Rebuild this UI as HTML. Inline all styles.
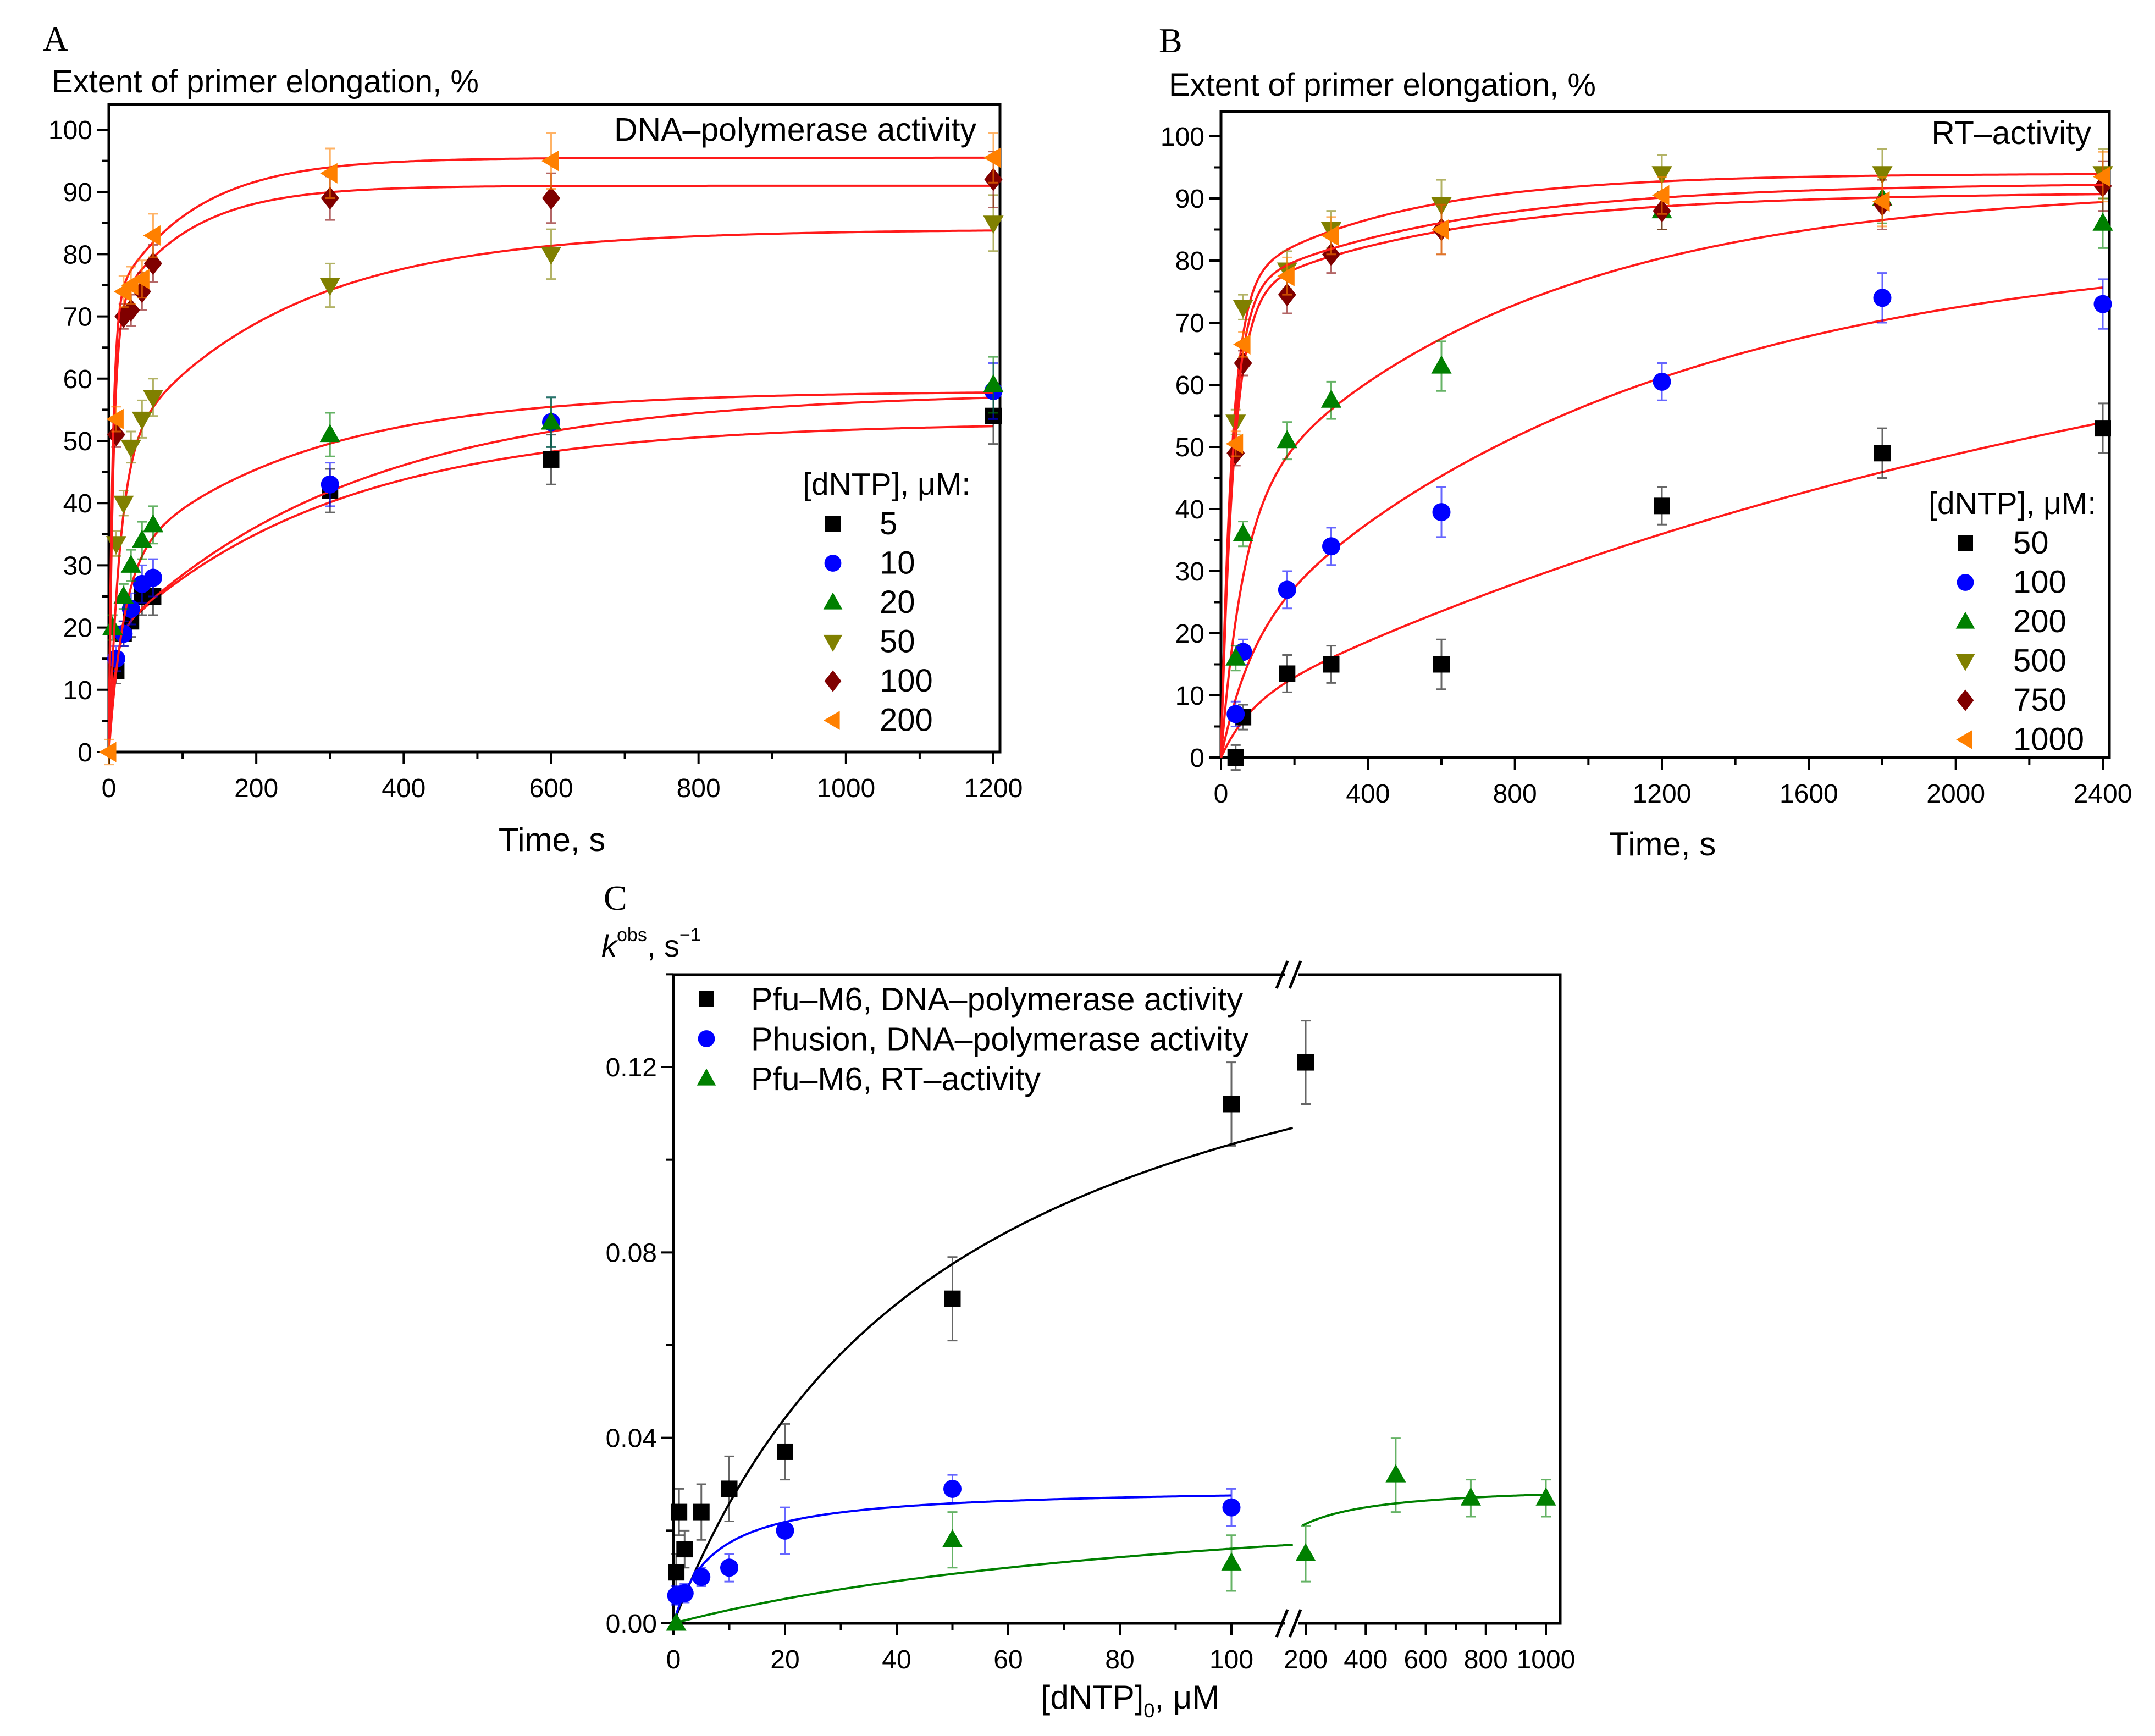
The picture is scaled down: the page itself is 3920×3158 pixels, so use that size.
<!DOCTYPE html>
<html><head><meta charset="utf-8">
<style>
html,body{margin:0;padding:0;background:#fff;}
svg{display:block;font-family:"Liberation Sans",Arial,sans-serif;}
</style></head>
<body>
<svg id="fig" width="3920" height="3158" viewBox="0 0 3920 3158" xmlns="http://www.w3.org/2000/svg">
<rect width="3920" height="3158" fill="#fff"/>
<g id="gA"></g>
<g id="gB"></g>
<g id="gC"></g>
</svg>
<script>
// ---------- Panel A data ----------
const aSeriesNames = ["5","10","20","50","100","200"];
const aTimes5 = [10,20,30,45,60,300,600,1200];
const aVals5 = [13,19,21,25,25,42,47,54];
const aTimes10 = [10,20,30,45,60,300,600,1200];
const aVals10 = [15,19,23,27,28,43,53,58];
const aTimes20 = [5,20,30,45,60,300,600,1200];
const aVals20 = [20,25,30,34,36.5,51,53,59];
const aTimes50 = [10,20,30,45,60,300,600,1200];
const aVals50 = [33.5,40,49,53.5,57,75,80,85];
const aTimes100 = [10,20,30,45,60,300,600,1200];
const aVals100 = [51,70,71,74,78.5,89,89,92];
const aTimes200 = [0,10,20,30,45,60,300,600,1200];
const aVals200 = [0,53.5,74,75,76,83,93,95,95.5];
const aErr = [2,2,2.5,3,3,3.5,4,4.5];
// fit parameters [A1,tau1,A2,tau2]
const aFit5 = [18,8,35,300];
const aFit10 = [18,8,40,330];
const aFit20 = [30,20,28,250];
const aFit50 = [48,15,36,230];
const aFit100 = [70,6,21,100];
const aFit200 = [72,5,23.5,110];
const aXTicks = [0,200,400,600,800,1000,1200];
const aYTicks = [0,10,20,30,40,50,60,70,80,90,100];

// ---------- Panel B data ----------
const bSeriesNames = ["50","100","200","500","750","1000"];
const bTimes = [40,60,180,300,600,1200,1800,2400];
const bVals50 = [0,6.5,13.5,15,15,40.5,49,53];
const bVals100 = [7,17,27,34,39.5,60.5,74,73];
const bVals200 = [16,36,51,57.5,63,88,90,86];
const bVals500 = [54,72.5,78.5,85,89,94,94,94];
const bVals750 = [49,63.5,74.5,81,85,88,89,92];
const bVals1000 = [50.5,66.5,77.5,84,85,90.5,89.5,93.5];
const bErr = [2,2,3,3,4,3,4,4];
const bFit50 = [8,80,78,2700];
const bFit100 = [18,80,65,1100];
const bFit200 = [40,60,52,800];
const bFit500 = [76,30,18,450];
const bFit750 = [74,35,17,600];
const bFit1000 = [75,32,17.5,600];
const bXTicks = [0,400,800,1200,1600,2000,2400];
const bYTicks = [0,10,20,30,40,50,60,70,80,90,100];

// ---------- Panel C data ----------
const cBlackX = [0.5,1,2,5,10,20,50,100];
const cBlackY = [0.011,0.024,0.016,0.024,0.029,0.037,0.070,0.112];
const cBlackErr = [0.004,0.005,0.004,0.006,0.007,0.006,0.009,0.009];
const cBlackRX = [200];
const cBlackRY = [0.121];
const cBlackRErr = [0.009];
const cBlueX = [0.5,2,5,10,20,50,100];
const cBlueY = [0.006,0.0065,0.010,0.012,0.020,0.029,0.025];
const cBlueErr = [0.002,0.002,0.002,0.003,0.005,0.003,0.004];
const cGreenX = [0.5,50,100];
const cGreenY = [0.0,0.018,0.013];
const cGreenErr = [0,0.006,0.006];
const cGreenRX = [200,500,750,1000];
const cGreenRY = [0.015,0.032,0.027,0.027];
const cGreenRErr = [0.006,0.008,0.004,0.004];
const cFitBlack = [0.155,50];
const cFitBlue = [0.0295,7];
const cFitGreen = [0.033,105];
const cFitGreenR = [0.030,80];
const cYTicks = [0,0.04,0.08,0.12];
const cXTicksL = [0,20,40,60,80,100];
const cXTicksR = [200,400,600,800,1000];

const NS="http://www.w3.org/2000/svg";
function mk(parent,tag,attrs,text){
  const e=document.createElementNS(NS,tag);
  for(const k in attrs) e.setAttribute(k,attrs[k]);
  if(text!==undefined) e.textContent=text;
  parent.appendChild(e);
  return e;
}
const COL={black:"#000000",blue:"#0000ff",green:"#008000",olive:"#808000",maroon:"#800000",orange:"#ff8000"};
function marker(g,shape,x,y,color,s){
  let e;
  if(shape==="sq") e=mk(g,"rect",{x:x-s*0.5,y:y-s*0.5,width:s,height:s,fill:color});
  else if(shape==="ci") e=mk(g,"circle",{cx:x,cy:y,r:s*0.55,fill:color});
  else if(shape==="up") e=mk(g,"polygon",{points:`${x},${y-s*0.65} ${x-s*0.62},${y+s*0.45} ${x+s*0.62},${y+s*0.45}`,fill:color});
  else if(shape==="dn") e=mk(g,"polygon",{points:`${x},${y+s*0.65} ${x-s*0.62},${y-s*0.45} ${x+s*0.62},${y-s*0.45}`,fill:color});
  else if(shape==="di") e=mk(g,"polygon",{points:`${x},${y-s*0.7} ${x+s*0.55},${y} ${x},${y+s*0.7} ${x-s*0.55},${y}`,fill:color});
  else e=mk(g,"polygon",{points:`${x-s*0.6},${y} ${x+s*0.45},${y-s*0.62} ${x+s*0.45},${y+s*0.62}`,fill:color});
  return e;
}
function errbar(g,x,y1,y2,color){
  const e=mk(g,"path",{d:`M${x},${y1}V${y2}M${x-9},${y1}H${x+9}M${x-9},${y2}H${x+9}`,stroke:color,"stroke-width":3,fill:"none",opacity:0.6});
  return e;
}
function biexp(p,t){return p[0]*(1-Math.exp(-t/p[1]))+p[2]*(1-Math.exp(-t/p[3]));}
function mm(p,x){return p[0]*x/(p[1]+x);}

function frame(g,L,T,R,B){
  const f=mk(g,"rect",{x:L,y:T,width:R-L,height:B-T,fill:"none",stroke:"#000","stroke-width":5});
  
  
}
function text(g,x,y,s,size,anchor,name){
  const t=mk(g,"text",{x:x,y:y,"font-size":size,"text-anchor":anchor||"start",fill:"#000"},s);
  
  
  return t;
}

function timePanel(g,cfg){
  const {L,T,R,B,x0px,x1px,xmax,y0px,y100px,xTicks,yTicks,xMinor}=cfg;
  const X=t=>x0px+t/xmax*(x1px-x0px);
  const Y=v=>y0px-(v/100)*(y0px-y100px);
  frame(g,L,T,R,B);
  const ax=mk(g,"g",{});
  
  
  for(let t=0;t<=xmax+1e-9;t+=xMinor){
    const major=xTicks.includes(t);
    mk(ax,"line",{x1:X(t),x2:X(t),y1:B,y2:B+(major?22:13),stroke:"#000","stroke-width":4});
  }
  xTicks.forEach(t=>{
    text(ax,X(t),B+82,String(t),48,"middle","x-tick-label");
  });
  const ay=mk(g,"g",{});
  
  
  for(let v=0;v<=100;v+=5){
    const major=v%10===0;
    mk(ay,"line",{x1:L,x2:L-(major?22:13),y1:Y(v),y2:Y(v),stroke:"#000","stroke-width":4});
  }
  yTicks.forEach(v=>{
    text(ay,L-30,Y(v)+17,String(v),48,"end","y-tick-label");
  });
  return {X,Y};
}
function drawSeries(g,sc,times,vals,errs,fit,shape,color,xmax,name){
  const sg=mk(g,"g",{});
  
  
  let d="";
  for(let i=0;i<=600;i++){
    const t=xmax*Math.pow(i/600,2);
    d+=(i?"L":"M")+sc.X(t).toFixed(1)+","+sc.Y(biexp(fit,t)).toFixed(1);
  }
  const c=mk(sg,"path",{d:d,stroke:"#ff1a1a","stroke-width":4,fill:"none"});
  
  
  times.forEach((t,i)=>{
    const e=errs[i]||0;
    const eb=errbar(sg,sc.X(t),sc.Y(vals[i]+e),sc.Y(vals[i]-e),color);
    
    
  });
  times.forEach((t,i)=>{
    const m=marker(sg,shape,sc.X(t),sc.Y(vals[i]),color,30);
    
    
  });
}
function legend(g,x,y,title,names,shapes,colors,mx,tx){
  const lg=mk(g,"g",{});
  
  
  text(lg,x,y,title,57,"start","legend-title");
  names.forEach((n,i)=>{
    const yy=y+72+i*71.5;
    const m=marker(lg,shapes[i],mx,yy-19,colors[i],28);
    
    
    text(lg,tx,yy,n,58,"start","legend-entry");
  });
}
const shapes=["sq","ci","up","dn","di","lt"];
const colors=[COL.black,COL.blue,COL.green,COL.olive,COL.maroon,COL.orange];

// ----- Panel A -----
(function(){
  const g=document.getElementById("gA");
  text(g,78,92,"A",64,"start","panel-label-a").setAttribute("font-family","Liberation Serif, serif");
  text(g,94,168,"Extent of primer elongation, %",58,"start","y-axis-title");
  const sc=timePanel(g,{L:198,T:190,R:1819,B:1368,x0px:198,x1px:1807,xmax:1200,y0px:1368,y100px:236,xTicks:aXTicks,yTicks:aYTicks,xMinor:100});
  text(g,1776,256,"DNA–polymerase activity",59,"end","panel-title");
  text(g,1004,1548,"Time, s",60,"middle","x-axis-title");
  const T=[aTimes5,aTimes10,aTimes20,aTimes50,aTimes100,aTimes200];
  const V=[aVals5,aVals10,aVals20,aVals50,aVals100,aVals200];
  const F=[aFit5,aFit10,aFit20,aFit50,aFit100,aFit200];
  for(let i=0;i<6;i++) drawSeries(g,sc,T[i],V[i],aErr.concat([4]),F[i],shapes[i],colors[i],1200,aSeriesNames[i]);
  legend(g,1460,900,"[dNTP], μM:",aSeriesNames,shapes,colors,1515,1600);
})();

// ----- Panel B -----
(function(){
  const g=document.getElementById("gB");
  text(g,2108,95,"B",64,"start","panel-label-b").setAttribute("font-family","Liberation Serif, serif");
  text(g,2126,174,"Extent of primer elongation, %",58,"start","y-axis-title");
  const sc=timePanel(g,{L:2221,T:203,R:3837,B:1378,x0px:2221,x1px:3825,xmax:2400,y0px:1378,y100px:248,xTicks:bXTicks,yTicks:bYTicks,xMinor:200});
  text(g,3804,262,"RT–activity",59,"end","panel-title");
  text(g,3024,1556,"Time, s",60,"middle","x-axis-title");
  const V=[bVals50,bVals100,bVals200,bVals500,bVals750,bVals1000];
  const F=[bFit50,bFit100,bFit200,bFit500,bFit750,bFit1000];
  for(let i=0;i<6;i++) drawSeries(g,sc,bTimes,V[i],bErr,F[i],shapes[i],colors[i],2400,bSeriesNames[i]);
  legend(g,3508,935,"[dNTP], μM:",bSeriesNames,shapes,colors,3575,3662);
})();

// ----- Panel C -----
(function(){
  const g=document.getElementById("gC");
  const L=1225,T=1773,R=2838,B=2953;
  const brk=2350;
  const XL=x=>1225+x/100*(2240-1225);
  const XR=x=>2375+(x-200)/800*(2812-2375);
  const Y=v=>2953-v/0.12*(2953-1941);
  text(g,1098,1655,"C",64,"start","panel-label-c").setAttribute("font-family","Liberation Serif, serif");
  const yt=text(g,1094,1740,"",56,"start","y-axis-title");
  mk(yt,"tspan",{"font-style":"italic"},"k");
  mk(yt,"tspan",{"font-size":34,dy:-28},"obs");
  mk(yt,"tspan",{dy:28},", s");
  mk(yt,"tspan",{"font-size":34,dy:-28},"−1");
  const fr=mk(g,"path",{d:`M${brk-12},${T}H${L}V${B}H${brk-12}M${brk+12},${B}H${R}V${T}H${brk+12}`,stroke:"#000","stroke-width":5,fill:"none"});
  
  
  [T,B].forEach(yy=>{
    const br=mk(g,"path",{d:`M${brk-28},${yy+25}L${brk-8},${yy-25}M${brk-4},${yy+25}L${brk+16},${yy-25}`,stroke:"#000","stroke-width":5,fill:"none"});
    
    
  });
  const ax=mk(g,"g",{});
  
  
  for(let x=0;x<=100;x+=10){const M=x%20===0;mk(ax,"line",{x1:XL(x),x2:XL(x),y1:B,y2:B+(M?22:13),stroke:"#000","stroke-width":4});}
  for(let x=200;x<=1000;x+=100){const M=x%200===0;mk(ax,"line",{x1:XR(x),x2:XR(x),y1:B,y2:B+(M?22:13),stroke:"#000","stroke-width":4});}
  cXTicksL.forEach(x=>text(ax,XL(x),B+82,String(x),48,"middle","x-tick-label"));
  cXTicksR.forEach(x=>text(ax,XR(x),B+82,String(x),48,"middle","x-tick-label"));
  const ay=mk(g,"g",{});
  
  
  for(let i=0;i<=7;i++){const v=i*0.02;const M=i%2===0;mk(ay,"line",{x1:L,x2:L-(M?22:13),y1:Y(v),y2:Y(v),stroke:"#000","stroke-width":4});}
  cYTicks.forEach(v=>text(ay,L-30,Y(v)+17,v.toFixed(2),48,"end","y-tick-label"));
  const xt=text(g,2056,3108,"[dNTP]",60,"middle","x-axis-title");
  mk(xt,"tspan",{"font-size":36,dy:16},"0");
  mk(xt,"tspan",{dy:-16},", μM");
  function curve(p,x0,x1,X,color,name){
    let d="";
    for(let i=0;i<=300;i++){const x=x0+(x1-x0)*i/300;d+=(i?"L":"M")+X(x).toFixed(1)+","+Y(mm(p,x)).toFixed(1);}
    const c=mk(g,"path",{d:d,stroke:color,"stroke-width":4,fill:"none"});
    
    
  }
  curve(cFitBlack,0,111,XL,"#000","pfu-dna");
  curve(cFitBlue,0,100,XL,"#0000ff","phusion-dna");
  curve(cFitGreen,0,111,XL,"#008000","pfu-rt");
  curve(cFitGreenR,190,1000,XR,"#008000","pfu-rt-right");
  function pts(xs,ys,es,X,shape,color,name){
    const sg=mk(g,"g",{});
    
    
    xs.forEach((x,i)=>{
      const eb=errbar(sg,X(x),Y(ys[i]+es[i]),Y(ys[i]-es[i]),color);
      
      
      const m=marker(sg,shape,X(x),Y(ys[i]),color,30);
      
      
    });
  }
  pts(cBlackX,cBlackY,cBlackErr,XL,"sq","#000","pfu-dna");
  pts(cBlackRX,cBlackRY,cBlackRErr,XR,"sq","#000","pfu-dna-right");
  pts(cBlueX,cBlueY,cBlueErr,XL,"ci","#0000ff","phusion-dna");
  pts(cGreenX,cGreenY,cGreenErr,XL,"up","#008000","pfu-rt");
  pts(cGreenRX,cGreenRY,cGreenRErr,XR,"up","#008000","pfu-rt-right");
  const lg=mk(g,"g",{});
  
  
  const ln=["Pfu–M6, DNA–polymerase activity","Phusion, DNA–polymerase activity","Pfu–M6, RT–activity"];
  const ls=["sq","ci","up"], lc=["#000","#0000ff","#008000"];
  ln.forEach((n,i)=>{
    const yy=1817+i*72.5;
    const m=marker(lg,ls[i],1285,yy,lc[i],28);
    
    
    text(lg,1366,yy+21,n,59,"start","legend-entry");
  });
})();
</script>
</body></html>
